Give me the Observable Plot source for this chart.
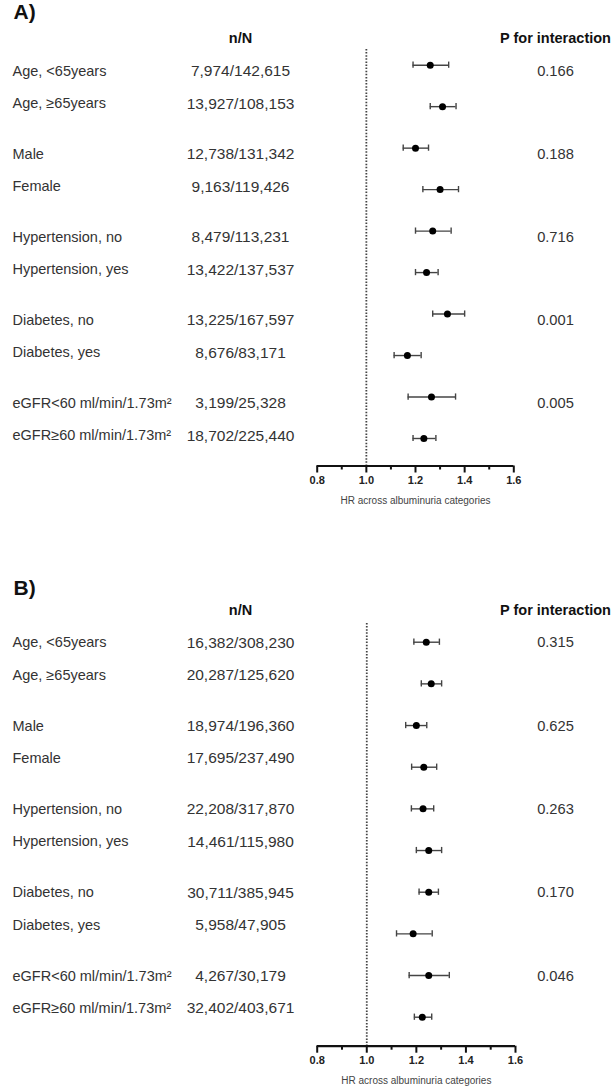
<!DOCTYPE html>
<html>
<head>
<meta charset="utf-8">
<script src="https://cdn.jsdelivr.net/npm/d3@7"></script>
<script src="https://cdn.jsdelivr.net/npm/@observablehq/plot@0.6"></script>
<style>
  html, body { margin: 0; padding: 0; background: #fff; }
  #chart svg { display: block; }
</style>
</head>
<body>
<div id="chart"></div>
<script>
// ---- data ----
const labels = ["Age, <65years", "Age, \u226565years", "Male", "Female", "Hypertension, no", "Hypertension, yes", "Diabetes, no", "Diabetes, yes", "eGFR<60 ml/min/1.73m\u00B2", "eGFR\u226560 ml/min/1.73m\u00B2"];

const nA = ["7,974/142,615", "13,927/108,153", "12,738/131,342", "9,163/119,426", "8,479/113,231", "13,422/137,537", "13,225/167,597", "8,676/83,171", "3,199/25,328", "18,702/225,440"];
const hrA = [1.26, 1.31, 1.20, 1.30, 1.27, 1.245, 1.33, 1.167, 1.265, 1.234];
const loA = [1.19, 1.26, 1.15, 1.23, 1.20, 1.20, 1.27, 1.113, 1.17, 1.19];
const hiA = [1.335, 1.365, 1.253, 1.375, 1.345, 1.292, 1.40, 1.223, 1.363, 1.283];
const pA = ["0.166", "0.188", "0.716", "0.001", "0.005"];

const nB = ["16,382/308,230", "20,287/125,620", "18,974/196,360", "17,695/237,490", "22,208/317,870", "14,461/115,980", "30,711/385,945", "5,958/47,905", "4,267/30,179", "32,402/403,671"];
const hrB = [1.24, 1.26, 1.20, 1.23, 1.227, 1.25, 1.25, 1.187, 1.25, 1.224];
const loB = [1.19, 1.22, 1.157, 1.181, 1.18, 1.20, 1.211, 1.12, 1.171, 1.192];
const hiB = [1.293, 1.302, 1.242, 1.282, 1.27, 1.302, 1.289, 1.264, 1.333, 1.262];
const pB = ["0.315", "0.625", "0.263", "0.170", "0.046"];

const majorTicks = [0.8, 1.0, 1.2, 1.4, 1.6];
const minorTicks = [0.9, 1.1, 1.3, 1.5];
const axisTitle = "HR across albuminuria categories";
const colHeaders = ["n/N", "P for interaction"];

// ---- drawing ----
const FONT = "'Liberation Sans', Arial, Helvetica, sans-serif";
const W = 614;

function panel(cfg) {
  const {tag, n, hr, lo, hi, p, height, marginTop, marginBottom, marginRight, domain, textShift, headY, tagY} = cfg;
  const marginLeft = 316.7;
  const half = 0.39;
  const rows = labels.map((label, i) => ({
    i, label, n: n[i], hr: hr[i], lo: lo[i], hi: hi[i],
    ty: Math.floor(i / 2) * 2 + 0.5 + (i % 2 ? half : -half) + textShift
  }));
  const prow = p.map((v, g) => ({p: v, ty: g * 2 + 0.5 - half + textShift}));
  const capH = 0.075;
  const frameRight = W - marginRight;
  const nCol = 240 - marginLeft;
  const pCol = 555 - frameRight;
  return Plot.plot({
    width: W,
    height,
    marginLeft, marginRight, marginTop, marginBottom,
    style: {fontFamily: FONT, fontSize: "14px", background: "#fff", color: "#333", overflow: "visible"},
    x: {domain: [majorTicks[0], majorTicks[majorTicks.length - 1]], axis: null},
    y: {domain, reverse: true, axis: null},
    marks: [
      // reference line at HR = 1
      Plot.ruleX([1], {stroke: "#444", strokeWidth: 1.8, strokeDasharray: "1.5,1.6"}),
      // axis line
      Plot.ruleY([domain[1]], {x1: majorTicks[0], x2: majorTicks[majorTicks.length - 1], stroke: "#111", strokeWidth: 2.2}),
      Plot.axisX({ticks: majorTicks, tickSize: 7, tickPadding: 3, tickFormat: d => d.toFixed(1), fontWeight: "bold", fontSize: 11, fill: "#222", stroke: "#111", strokeWidth: 2, label: null}),
      Plot.axisX({ticks: minorTicks, tickSize: 4, tickFormat: () => "", stroke: "#111", strokeWidth: 2, label: null}),
      Plot.text([axisTitle], {frameAnchor: "bottom", dy: 35, text: d => d, fontSize: 10, fill: "#444", lineAnchor: "middle"}),
      // CI whiskers
      Plot.ruleY(rows, {y: "i", x1: "lo", x2: "hi", stroke: "#444", strokeWidth: 1.4}),
      Plot.ruleX(rows, {x: "lo", y1: d => d.i - capH, y2: d => d.i + capH, stroke: "#444", strokeWidth: 1.4}),
      Plot.ruleX(rows, {x: "hi", y1: d => d.i - capH, y2: d => d.i + capH, stroke: "#444", strokeWidth: 1.4}),
      Plot.dot(rows, {x: "hr", y: "i", r: 3.5, fill: "#000", stroke: null}),
      // text columns
      Plot.text(rows, {y: "ty", text: "label", frameAnchor: "left", dx: 12 - marginLeft, textAnchor: "start", fill: "#333", fontSize: 14.5}),
      Plot.text(rows, {y: "ty", text: "n", frameAnchor: "left", dx: nCol, textAnchor: "middle", fill: "#333", fontSize: 15.5}),
      Plot.text(prow, {y: "ty", text: "p", frameAnchor: "right", dx: pCol, textAnchor: "middle", fill: "#333", fontSize: 14.7}),
      // headers
      Plot.text([colHeaders[0]], {y: [headY], text: d => d, frameAnchor: "left", dx: nCol, textAnchor: "middle", fontWeight: "bold", fill: "#111", fontSize: 14.5}),
      Plot.text([colHeaders[1]], {y: [headY], text: d => d, frameAnchor: "right", dx: pCol, textAnchor: "middle", fontWeight: "bold", fill: "#111", fontSize: 14.5}),
      Plot.text([tag], {y: [tagY], text: d => d, frameAnchor: "left", dx: 13 - marginLeft, textAnchor: "start", fontWeight: "bold", fill: "#111", fontSize: 21})
    ]
  });
}

const chart = document.getElementById("chart");
chart.append(panel({
  tag: "A)", n: nA, hr: hrA, lo: loA, hi: hiA, p: pA,
  height: 545, marginTop: 49, marginBottom: 545 - 465.5, marginRight: 614 - 513.3,
  domain: [-0.378, 9.663], textShift: 0.04, headY: -0.636, tagY: -1.27
}));
chart.append(panel({
  tag: "B)", n: nB, hr: hrB, lo: loB, hi: hiB, p: pB,
  height: 545, marginTop: 78, marginBottom: 545 - 500.7, marginRight: 614 - 515,
  domain: [-0.449, 9.696], textShift: -0.1, headY: -0.761, tagY: -1.29
}));
</script>
</body>
</html>
